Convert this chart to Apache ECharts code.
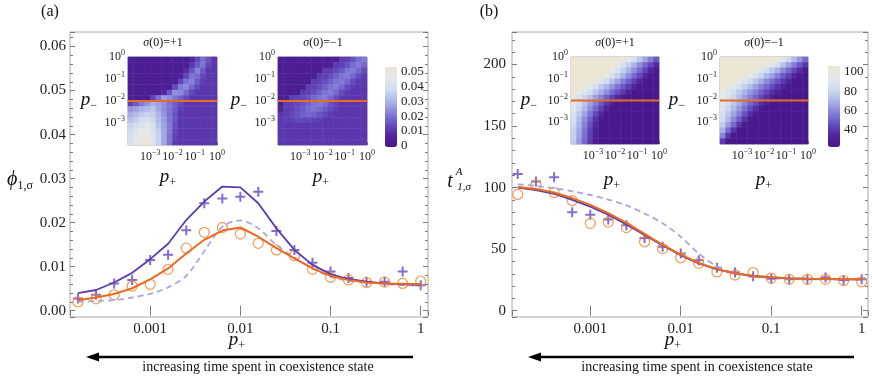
<!DOCTYPE html>
<html>
<head>
<meta charset="utf-8">
<script src="https://cdn.jsdelivr.net/npm/echarts@6/dist/echarts.min.js"></script>
</head>
<body>
<style>
  html, body, #main { margin: 0; width: 872px; height: 382px; background: #fff; }
</style>
<div id="main"></div>
<script>
// sample points along p+ (shared by both panels)
const pPlus = [0.000158, 0.000251, 0.000398, 0.000631, 0.001, 0.00158, 0.00251, 0.00398, 0.00631, 0.01,
               0.0158, 0.0251, 0.0398, 0.0631, 0.1, 0.158, 0.251, 0.398, 0.631, 1];

// panel (a): phi_{1,sigma}
const phiUp      = [0.004, 0.0047, 0.0064, 0.0086, 0.0117, 0.0152, 0.0206, 0.0248, 0.0282, 0.028,
                    0.0244, 0.0187, 0.0138, 0.0104, 0.0083, 0.0072, 0.0066, 0.0062, 0.006, 0.0059];
const phiDown    = [0.0024, 0.003, 0.0038, 0.0051, 0.0071, 0.0096, 0.013, 0.0161, 0.0182, 0.0189,
                    0.0168, 0.0142, 0.0119, 0.0096, 0.0079, 0.007, 0.0064, 0.0062, 0.0061, 0.006];
const phiRef     = [0.002, 0.0022, 0.0024, 0.003, 0.0038, 0.0053, 0.0079, 0.0135, 0.0191, 0.0205,
                    0.0187, 0.0149, 0.0121, 0.0096, 0.0077, 0.0068, 0.0064, 0.0061, 0.0058, 0.0057];
const phiUpSim   = [0.0028, 0.0036, 0.0062, 0.007, 0.0115, 0.0127, 0.0183, 0.0244, 0.0255, 0.0259,
                    0.027, 0.0181, 0.0138, 0.0109, 0.0089, 0.0074, 0.0066, 0.0066, 0.0089, 0.0058];
const phiDownSim = [0.002, 0.0027, 0.0036, 0.0056, 0.006, 0.0094, 0.0142, 0.0178, 0.0189, 0.0174,
                    0.0153, 0.0138, 0.0125, 0.0094, 0.0076, 0.007, 0.0064, 0.0065, 0.0062, 0.0067];

// panel (b): t^A_{1,sigma}
const tUp      = [100, 98, 95, 90, 84.5, 78, 70, 61.5, 53, 45, 38.5, 33.5, 30.3, 28.2, 27, 26.3, 26, 25.7, 25.5, 25.4];
const tDown    = [100.5, 98.8, 96, 91.5, 86, 79.3, 71.3, 62.5, 53.5, 45.5, 38.8, 33.8, 30.5, 28.3, 27.1, 26.4, 26, 25.8, 25.6, 25.5];
const tRef     = [102.7, 101.4, 99.5, 97, 94, 90.3, 85.5, 79, 71, 60, 46.5, 36, 30.5, 27.8, 26.4, 25.8, 25.6, 25.5, 25.4, 25.4];
const tUpSim   = [111, 105, 108.5, 80, 78, 74, 69.5, 59, 52, 46.5, 41, 35, 31, 28, 26, 25.5, 25.5, 27, 25, 25.5];
const tDownSim = [94.5, 102, 96, 89.5, 71, 72, 67.5, 56, 50.5, 43, 38.5, 31.5, 29, 31, 26.5, 25.5, 25.5, 25.5, 24.5, 23.5];

// insets: rows run from p- = 10^0 (top) down to 10^-4, columns from p+ = 10^-4 to 10^0
const insetRange = [-4, 0];
const cutLog = -2;   // p- = 10^-2
const phiMapUp = [
  [.003,.003,.003,.003,.003,.003,.003,.003,.003,.003,.003,.007,.013,.019,.015,.010],
  [.003,.003,.003,.003,.003,.003,.003,.003,.003,.003,.003,.010,.016,.020,.013,.010],
  [.003,.003,.003,.003,.003,.003,.003,.003,.003,.003,.008,.015,.022,.016,.010,.010],
  [.003,.003,.003,.003,.003,.003,.003,.003,.003,.005,.013,.020,.019,.013,.010,.010],
  [.003,.003,.003,.003,.003,.003,.003,.003,.003,.013,.020,.022,.016,.011,.010,.010],
  [.003,.003,.003,.003,.003,.003,.003,.003,.013,.021,.023,.018,.013,.010,.010,.010],
  [.003,.003,.003,.003,.003,.003,.007,.015,.024,.023,.018,.013,.010,.010,.010,.010],
  [.003,.003,.003,.003,.012,.019,.026,.024,.020,.017,.013,.010,.010,.010,.010,.010],
  [.012,.016,.021,.025,.029,.027,.024,.020,.016,.013,.010,.010,.010,.010,.010,.010],
  [.025,.027,.029,.031,.033,.028,.024,.020,.016,.011,.010,.010,.010,.010,.010,.010],
  [.029,.031,.034,.036,.035,.030,.025,.020,.015,.010,.010,.010,.010,.010,.010,.010],
  [.032,.035,.038,.040,.037,.031,.026,.020,.015,.010,.010,.010,.010,.010,.010,.010],
  [.036,.039,.042,.045,.040,.033,.027,.021,.014,.010,.010,.010,.010,.010,.010,.010],
  [.038,.042,.046,.049,.042,.035,.028,.021,.013,.010,.010,.010,.010,.010,.010,.010],
  [.040,.044,.048,.051,.043,.036,.028,.020,.012,.010,.010,.010,.010,.010,.010,.010],
  [.040,.045,.049,.052,.044,.036,.028,.020,.011,.010,.010,.010,.010,.010,.010,.010]
];
const phiMapDown = [
  [.003,.003,.003,.003,.003,.003,.003,.003,.003,.003,.003,.011,.012,.015,.019,.021],
  [.003,.003,.003,.003,.003,.003,.003,.003,.003,.004,.011,.012,.015,.019,.021,.018],
  [.003,.003,.003,.003,.003,.003,.003,.003,.011,.011,.013,.016,.020,.021,.018,.014],
  [.003,.003,.003,.003,.003,.003,.003,.011,.012,.014,.017,.020,.021,.018,.014,.011],
  [.003,.003,.003,.003,.003,.003,.011,.012,.014,.017,.020,.021,.018,.014,.011,.010],
  [.003,.003,.003,.003,.003,.011,.012,.014,.017,.020,.021,.018,.014,.011,.010,.010],
  [.003,.003,.003,.003,.011,.012,.014,.017,.020,.021,.018,.014,.011,.010,.010,.010],
  [.003,.003,.011,.012,.013,.015,.018,.020,.021,.018,.014,.011,.010,.010,.010,.010],
  [.003,.011,.012,.013,.015,.017,.020,.021,.019,.015,.012,.010,.010,.010,.010,.010],
  [.006,.011,.012,.014,.016,.019,.020,.019,.016,.013,.011,.010,.010,.010,.010,.010],
  [.010,.011,.013,.015,.017,.018,.017,.015,.013,.011,.010,.010,.010,.010,.010,.010],
  [.010,.011,.012,.013,.013,.013,.012,.011,.010,.010,.010,.010,.010,.010,.010,.010],
  [.010,.010,.010,.010,.010,.010,.010,.010,.010,.010,.010,.010,.010,.010,.010,.010],
  [.010,.010,.010,.010,.010,.010,.010,.010,.010,.010,.010,.010,.010,.010,.010,.010],
  [.010,.010,.010,.010,.010,.010,.010,.010,.010,.010,.010,.010,.010,.010,.010,.010],
  [.010,.010,.010,.010,.010,.010,.010,.010,.010,.010,.010,.010,.010,.010,.010,.010]
];
const tMapUp = [
  [106,106,106,106,106,106,106,106,106,106,93,84,75,66,57,48],
  [106,106,106,106,106,106,106,106,96,87,78,70,61,52,44,35],
  [106,106,106,106,106,106,106,96,87,78,70,61,52,43,34,25],
  [106,106,106,106,106,106,96,87,79,70,61,52,44,35,26,24],
  [106,106,106,106,99,90,83,74,66,58,50,42,34,26,24,24],
  [106,106,99,92,85,77,70,63,55,48,41,33,26,24,24,24],
  [106,97,90,83,75,68,61,53,46,39,31,24,24,24,24,24],
  [96,88,80,73,65,58,50,42,35,27,24,24,24,24,24,24],
  [93,84,75,66,58,49,40,31,24,24,24,24,24,24,24,24],
  [91,81,71,61,52,42,32,24,24,24,24,24,24,24,24,24],
  [87,76,66,55,44,34,24,24,24,24,24,24,24,24,24,24],
  [84,72,61,50,38,27,24,24,24,24,24,24,24,24,24,24],
  [81,70,58,46,35,24,24,24,24,24,24,24,24,24,24,24],
  [79,67,55,43,31,24,24,24,24,24,24,24,24,24,24,24],
  [78,66,54,41,30,24,24,24,24,24,24,24,24,24,24,24],
  [76,64,52,40,28,24,24,24,24,24,24,24,24,24,24,24]
];
const tMapDown = [
  [106,106,106,106,106,106,106,106,106,106,106,91,81,71,62,52],
  [106,106,106,106,106,106,106,106,100,91,83,74,65,57,48,39],
  [106,106,106,106,106,106,99,91,83,75,68,60,52,44,36,28],
  [106,106,106,106,106,95,87,80,72,65,57,49,42,34,27,24],
  [106,106,106,96,89,82,75,68,61,54,47,40,33,26,24,24],
  [106,98,92,85,78,72,65,58,52,45,38,32,25,24,24,24],
  [96,90,83,77,70,63,57,50,44,37,31,24,24,24,24,24],
  [94,87,80,72,65,58,51,44,37,29,24,24,24,24,24,24],
  [92,84,76,68,60,52,45,37,29,24,24,24,24,24,24,24],
  [89,80,71,63,54,46,37,28,24,24,24,24,24,24,24,24],
  [86,76,66,57,47,37,28,24,24,24,24,24,24,24,24,24],
  [82,71,60,49,38,27,24,24,24,24,24,24,24,24,24,24],
  [77,64,52,39,26,24,24,24,24,24,24,24,24,24,24,24],
  [69,53,38,25,24,24,24,24,24,24,24,24,24,24,24,24],
  [59,39,24,24,24,24,24,24,24,24,24,24,24,24,24,24],
  [41,24,24,24,24,24,24,24,24,24,24,24,24,24,24,24]
];
const phiBarRange = [-0.0009, 0.0532];
const tBarRange = [22.5, 106];

const FONT = 'Liberation Serif';
const purple = '#5b3cb2', orange = '#ea6a1f', lavender = '#aba6de';
const plusColor = '#6648c0', circleColor = '#f08a3a';
const frame = '#a8a8a8', tickColor = '#7a7a7a';
const palette = ['#46168a', '#52269c', '#6650c2', '#8783d9', '#aeb6e8', '#d0ddef', '#e3e8ea', '#ece5d4'];
const PLUS = 'path://M0,4H10V6H0Z M4,0H6V10H4Z';

var chart = echarts.init(document.getElementById('main'));

const decadeNames = {'-3': '0.001', '-2': '0.01', '-1': '0.1', '0': '1'};
function decadeLabel(v) {
  const e = Math.log10(v), r = Math.round(e);
  return Math.abs(e - r) < 1e-6 && decadeNames[r] !== undefined ? decadeNames[r] : '';
}
function powLabel(v) {
  if (Math.abs(v - Math.round(v)) > 1e-6) return '';
  const n = Math.round(v);
  return '{b|10}{s|' + (n === 0 ? '0' : '\u2212' + (-n)) + '}';
}
const powRich = {
  b: {fontFamily: FONT, fontSize: 12, color: '#222', lineHeight: 16},
  s: {fontFamily: FONT, fontSize: 8, color: '#222', verticalAlign: 'top', lineHeight: 9}
};

const grids = [
  {left: 70, top: 32, width: 358, height: 285},
  {left: 512, top: 32, width: 356, height: 285},
  {left: 128, top: 57, width: 89, height: 88},
  {left: 278, top: 57, width: 89, height: 88},
  {left: 571, top: 57, width: 88, height: 87},
  {left: 720, top: 57, width: 88, height: 87},
  {left: 385, top: 67, width: 12, height: 80},
  {left: 828, top: 66, width: 12, height: 81}
].map((g, i) => Object.assign(g, {show: i < 6, borderColor: frame, borderWidth: 1, backgroundColor: 'transparent'}));

const xAxes = [], yAxes = [];
const mainRanges = [
  {x: [1.29e-4, 1.205], y: [-0.00143, 0.0633], fmt: v => v.toFixed(2), margin: 4},
  {x: [1.364e-4, 1.174], y: [-5.1, 226.4], fmt: v => String(Math.round(v)), margin: 6}
];
mainRanges.forEach((r, i) => {
  ['bottom', 'top'].forEach(pos => xAxes.push({
    type: 'log', logBase: 10, gridIndex: i, position: pos, min: r.x[0], max: r.x[1],
    axisLine: {show: false}, splitLine: {show: false},
    axisTick: {inside: true, length: 5, lineStyle: {color: tickColor}},
    axisLabel: {show: pos === 'bottom', formatter: decadeLabel, showMinLabel: false, showMaxLabel: false,
                fontFamily: FONT, fontSize: 15, color: '#222', margin: 5}
  }));
  ['left', 'right'].forEach(pos => yAxes.push({
    type: 'value', gridIndex: i, position: pos, min: r.y[0], max: r.y[1],
    axisLine: {show: false}, splitLine: {show: false},
    axisTick: {inside: true, length: 5, lineStyle: {color: tickColor}},
    minorTick: {show: true, splitNumber: 5, length: 3, lineStyle: {color: tickColor}},
    axisLabel: {show: pos === 'left', formatter: r.fmt, showMinLabel: false, showMaxLabel: false,
                fontFamily: FONT, fontSize: 15, color: '#222', margin: r.margin}
  }));
});

const cellIds = [0, 1, 2, 3, 4, 5, 6, 7, 8, 9, 10, 11, 12, 13, 14, 15];
for (let g = 2; g < 6; g++) {
  xAxes.push({type: 'category', gridIndex: g, position: 'top', data: cellIds, show: false});
  xAxes.push({type: 'value', gridIndex: g, position: 'bottom', min: insetRange[0], max: insetRange[1],
    axisLine: {show: false}, splitLine: {show: false},
    axisTick: {inside: true, length: 3, lineStyle: {color: tickColor}},
    axisLabel: {formatter: powLabel, rich: powRich, showMinLabel: false, margin: 4}});
  yAxes.push({type: 'category', gridIndex: g, position: 'right', inverse: true, data: cellIds, show: false});
  yAxes.push({type: 'value', gridIndex: g, position: 'left', min: insetRange[0], max: insetRange[1],
    axisLine: {show: false}, splitLine: {show: false},
    axisTick: {inside: true, length: 3, lineStyle: {color: tickColor}},
    axisLabel: {formatter: powLabel, rich: powRich, showMinLabel: false, margin: 3}});
}
[phiBarRange, tBarRange].forEach((r, k) => {
  xAxes.push({type: 'value', gridIndex: 6 + k, min: 0, max: 1, show: false});
  yAxes.push({type: 'value', gridIndex: 6 + k, position: 'right', min: r[0], max: r[1],
    axisLine: {show: false}, splitLine: {show: false},
    axisTick: {length: 3, lineStyle: {color: tickColor}},
    axisLabel: {showMinLabel: false, showMaxLabel: false, fontFamily: FONT, fontSize: 13, color: '#222', margin: 4}});
});

function pts(vals) { return pPlus.map((p, i) => [p, vals[i]]); }
function cells(rows) {
  const out = [];
  rows.forEach((row, j) => row.forEach((v, i) => out.push([i, j, v])));
  return out;
}

const series = [];
[[phiUp, phiDown, phiRef, phiUpSim, phiDownSim], [tUp, tDown, tRef, tUpSim, tDownSim]].forEach((set, i) => {
  const ax = {xAxisIndex: 2 * i, yAxisIndex: 2 * i};
  series.push(Object.assign({type: 'line', data: pts(set[2]), showSymbol: false, smooth: 0.3,
    lineStyle: {color: lavender, width: 1.8, type: [6, 4]}}, ax));
  series.push(Object.assign({type: 'line', data: pts(set[0]), showSymbol: false,
    lineStyle: {color: purple, width: 1.8}}, ax));
  series.push(Object.assign({type: 'line', data: pts(set[1]), showSymbol: false,
    lineStyle: {color: orange, width: 2}}, ax));
  series.push(Object.assign({type: 'scatter', data: pts(set[3]), symbol: PLUS, symbolSize: 10,
    itemStyle: {color: plusColor}}, ax));
  series.push(Object.assign({type: 'scatter', data: pts(set[4]), symbol: 'circle', symbolSize: 10,
    itemStyle: {color: 'rgba(255,255,255,0)', borderColor: circleColor, borderWidth: 1.3}}, ax));
});

const heatIdx = [];
[phiMapUp, phiMapDown, tMapUp, tMapDown].forEach((rows, k) => {
  heatIdx.push(series.length);
  series.push({type: 'heatmap', xAxisIndex: 4 + 2 * k, yAxisIndex: 4 + 2 * k, data: cells(rows),
    itemStyle: {borderWidth: 0}});
  series.push({type: 'line', xAxisIndex: 5 + 2 * k, yAxisIndex: 5 + 2 * k, showSymbol: false,
    data: [[insetRange[0], cutLog], [insetRange[1], cutLog]],
    lineStyle: {color: orange, width: 2.2}, z: 5});
});

const visualMap = [
  {range: phiBarRange, idx: [heatIdx[0], heatIdx[1]], left: 385, top: 67, h: 80},
  {range: tBarRange, idx: [heatIdx[2], heatIdx[3]], left: 828, top: 66, h: 81}
].map(v => ({
  type: 'continuous', min: v.range[0], max: v.range[1], seriesIndex: v.idx, dimension: 2,
  left: v.left, top: v.top, itemWidth: 12, itemHeight: v.h, padding: 0,
  calculable: false, hoverLink: false, inRange: {color: palette}
}));

// text helpers
function txt(x, y, text, extra) {
  return {type: 'text', x: x, y: y, silent: true,
    style: Object.assign({text: text, fontFamily: FONT, fontSize: 14, fill: '#111',
      align: 'center', verticalAlign: 'middle'}, extra || {})};
}
function sub(base, s, size) {
  return {text: '{p|' + base + '}{s|' + s + '}', rich: {
    p: {fontFamily: FONT, fontStyle: 'italic', fontSize: size, lineHeight: size + 4, fill: '#111'},
    s: {fontFamily: FONT, fontSize: Math.round(size * 0.62), verticalAlign: 'bottom', lineHeight: 12, fill: '#111'}
  }};
}
function sigmaTitle(sign) {
  return {text: '{i|\u03c3}(0)=' + sign + '1', rich: {i: {fontFamily: FONT, fontStyle: 'italic', fontSize: 12}},
    fontSize: 12};
}
function arrow(x1, x2, y) {
  return [
    {type: 'line', silent: true, shape: {x1: x1 + 10, y1: y, x2: x2, y2: y}, style: {stroke: '#000', lineWidth: 2.5}},
    {type: 'polygon', silent: true, shape: {points: [[x1, y], [x1 + 13, y - 4.5], [x1 + 13, y + 4.5]]}, style: {fill: '#000'}}
  ];
}

const graphic = [
  txt(50, 12, '(a)', {fontSize: 16}),
  txt(489, 12, '(b)', {fontSize: 16}),
  txt(20, 180, '', sub('\u03d5', '1,\u03c3', 20)),
  txt(450, 182, 't', {fontStyle: 'italic', fontSize: 20}),
  txt(459, 172, 'A', {fontStyle: 'italic', fontSize: 11}),
  txt(464, 187, '1,\u03c3', {fontStyle: 'italic', fontSize: 11}),
  txt(237, 340, '', sub('p', '+', 19)),
  txt(673, 340, '', sub('p', '+', 19)),
  txt(163, 43, '', sigmaTitle('+')),
  txt(323, 43, '', sigmaTitle('\u2212')),
  txt(615, 43, '', sigmaTitle('+')),
  txt(764, 43, '', sigmaTitle('\u2212')),
  txt(89, 100, '', sub('p', '\u2212', 19)),
  txt(239, 100, '', sub('p', '\u2212', 19)),
  txt(529, 100, '', sub('p', '\u2212', 19)),
  txt(677, 100, '', sub('p', '\u2212', 19)),
  txt(168, 177, '', sub('p', '+', 19)),
  txt(321, 177, '', sub('p', '+', 19)),
  txt(612, 180, '', sub('p', '+', 19)),
  txt(764, 180, '', sub('p', '+', 19)),
  txt(258, 367, 'increasing time spent in coexistence state'),
  txt(697, 367, 'increasing time spent in coexistence state')
].concat(arrow(86, 413, 357), arrow(528, 854, 357));

chart.setOption({
  animation: false,
  grid: grids,
  xAxis: xAxes,
  yAxis: yAxes,
  visualMap: visualMap,
  series: series,
  graphic: graphic
});
</script>
</body>
</html>
